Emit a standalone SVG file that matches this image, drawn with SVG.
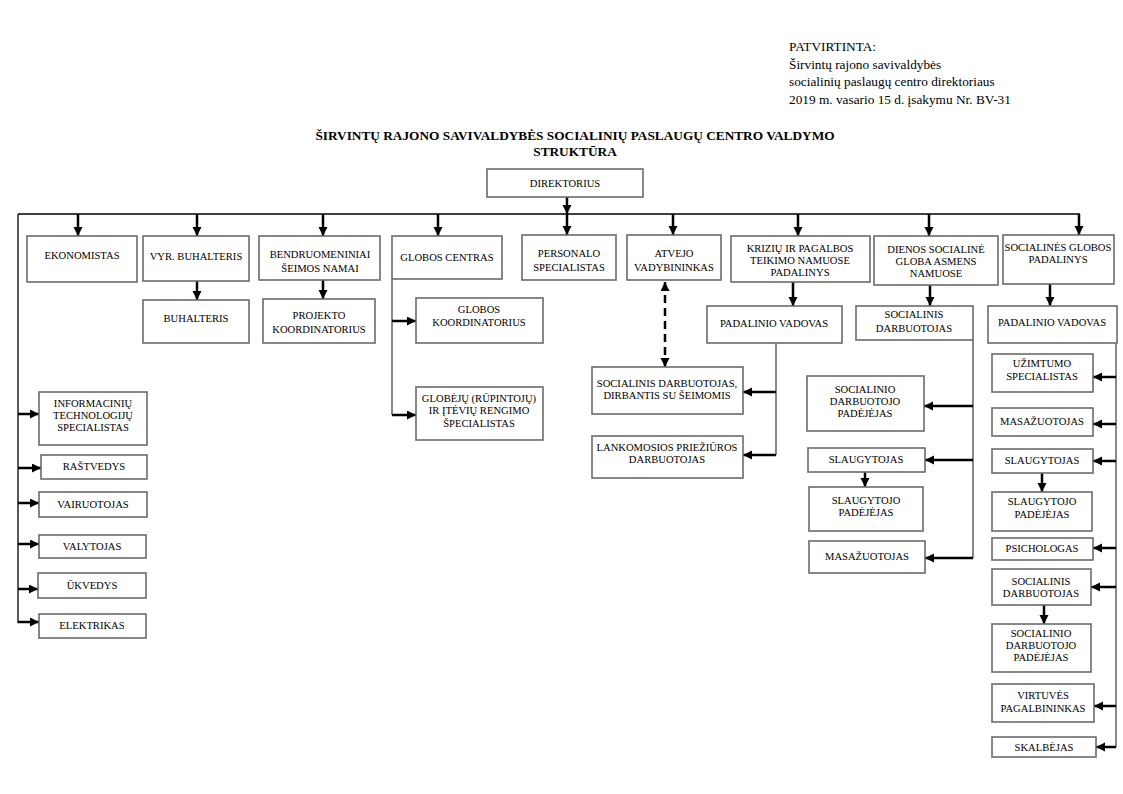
<svg xmlns="http://www.w3.org/2000/svg" width="1123" height="794" viewBox="0 0 1123 794">
<defs>
<marker id="ah" markerUnits="userSpaceOnUse" markerWidth="10" markerHeight="10" refX="9" refY="4.5" orient="auto-start-reverse">
<path d="M0,0 L9,4.5 L0,9 z" fill="#000"/>
</marker>
</defs>
<style>
.b{fill:#fff;stroke:#6b6b6b;stroke-width:1.6}
.t{font-family:"Liberation Serif","Times New Roman",serif;font-size:10.6px;fill:#000;text-anchor:middle}
.h{font-family:"Liberation Serif","Times New Roman",serif;font-size:13.3px;fill:#000}
.ti{font-family:"Liberation Serif","Times New Roman",serif;font-size:13.3px;font-weight:bold;fill:#000;text-anchor:middle}
.thin{stroke:#000;stroke-width:1.3;fill:none}
.gl{stroke:#6b6b6b;stroke-width:1.6;fill:none}
.ar{stroke:#000;stroke-width:2.5;fill:none;marker-end:url(#ah)}
.da{stroke:#000;stroke-width:2.5;fill:none;stroke-dasharray:8 5;marker-end:url(#ah);marker-start:url(#ah)}
</style>
<rect width="1123" height="794" fill="#fff"/>
<g id="header">
<text class="h" x="789" y="51">PATVIRTINTA:</text>
<text class="h" x="789" y="69">Širvintų rajono savivaldybės</text>
<text class="h" x="789" y="86">socialinių paslaugų centro direktoriaus</text>
<text class="h" x="789" y="104">2019 m. vasario 15 d. įsakymu Nr. BV-31</text>
</g>
<g id="title">
<text class="ti" x="575" y="140">ŠIRVINTŲ RAJONO SAVIVALDYBĖS SOCIALINIŲ PASLAUGŲ CENTRO VALDYMO</text>
<text class="ti" x="575" y="156">STRUKTŪRA</text>
</g>
<g id="connectors">
<line class="thin" x1="18" y1="214" x2="1080" y2="214"/>
<line class="thin" x1="18" y1="214" x2="18" y2="623"/>
<line class="ar" x1="567" y1="197" x2="567" y2="214"/>
<line class="ar" x1="78" y1="214" x2="78" y2="236"/>
<line class="ar" x1="197" y1="214" x2="197" y2="236"/>
<line class="ar" x1="323" y1="214" x2="323" y2="236"/>
<line class="ar" x1="438" y1="214" x2="438" y2="236"/>
<line class="ar" x1="567" y1="214" x2="567" y2="235"/>
<line class="ar" x1="673" y1="214" x2="673" y2="235"/>
<line class="ar" x1="798" y1="214" x2="798" y2="236"/>
<line class="ar" x1="929" y1="214" x2="929" y2="236"/>
<line class="ar" x1="1079" y1="214" x2="1079" y2="235"/>
<line class="ar" x1="197" y1="281" x2="197" y2="300"/>
<line class="ar" x1="323" y1="280" x2="323" y2="299"/>
<line class="ar" x1="793" y1="282" x2="793" y2="306"/>
<line class="ar" x1="930" y1="285" x2="930" y2="306"/>
<line class="ar" x1="1050" y1="284" x2="1050" y2="306"/>
<line class="ar" x1="1042" y1="473" x2="1042" y2="492"/>
<line class="ar" x1="865" y1="472" x2="865" y2="487"/>
<line class="ar" x1="1044" y1="605" x2="1044" y2="624"/>
<line class="da" x1="665" y1="282" x2="665" y2="367"/>
<line class="ar" x1="18" y1="414" x2="39" y2="414"/>
<line class="ar" x1="18" y1="468" x2="41" y2="468"/>
<line class="ar" x1="18" y1="503" x2="39" y2="503"/>
<line class="ar" x1="18" y1="544" x2="39" y2="544"/>
<line class="ar" x1="18" y1="589" x2="38" y2="589"/>
<line class="ar" x1="18" y1="622" x2="39" y2="622"/>
<line class="gl" x1="392" y1="279" x2="392" y2="415"/>
<line class="ar" x1="392" y1="321" x2="416" y2="321"/>
<line class="ar" x1="392" y1="415" x2="416" y2="415"/>
<line class="gl" x1="776" y1="343" x2="776" y2="455"/>
<line class="ar" x1="776" y1="392" x2="743" y2="392"/>
<line class="ar" x1="776" y1="455" x2="743" y2="455"/>
<line class="gl" x1="973" y1="340" x2="973" y2="558"/>
<line class="ar" x1="973" y1="406" x2="924" y2="406"/>
<line class="ar" x1="973" y1="460" x2="925" y2="460"/>
<line class="ar" x1="973" y1="558" x2="925" y2="558"/>
<line class="gl" x1="1116" y1="343" x2="1116" y2="747"/>
<line class="ar" x1="1116" y1="377" x2="1093" y2="377"/>
<line class="ar" x1="1116" y1="424" x2="1093" y2="424"/>
<line class="ar" x1="1116" y1="461" x2="1093" y2="461"/>
<line class="ar" x1="1116" y1="548" x2="1093" y2="548"/>
<line class="ar" x1="1116" y1="587" x2="1091" y2="587"/>
<line class="ar" x1="1116" y1="706" x2="1094" y2="706"/>
<line class="ar" x1="1116" y1="747" x2="1096" y2="747"/>
</g>
<g id="n-direktorius"><rect class="b" x="487" y="169" width="156" height="28"/><text class="t" x="565" y="187">DIREKTORIUS</text></g>
<g id="n-ekonomistas"><rect class="b" x="27" y="236" width="110" height="46"/><text class="t" x="82" y="259">EKONOMISTAS</text></g>
<g id="n-vyr-buhalteris"><rect class="b" x="143" y="236" width="106" height="45"/><text class="t" x="196" y="260">VYR. BUHALTERIS</text></g>
<g id="n-bendruomeniniai"><rect class="b" x="259" y="236" width="121" height="44"/><text class="t" x="320" y="258">BENDRUOMENINIAI</text><text class="t" x="320" y="272">ŠEIMOS NAMAI</text></g>
<g id="n-globos-centras"><rect class="b" x="392" y="236" width="110" height="43"/><text class="t" x="447" y="261">GLOBOS CENTRAS</text></g>
<g id="n-personalo"><rect class="b" x="522" y="235" width="94" height="45"/><text class="t" x="569" y="257">PERSONALO</text><text class="t" x="569" y="271">SPECIALISTAS</text></g>
<g id="n-atvejo"><rect class="b" x="627" y="235" width="94" height="45"/><text class="t" x="674" y="257">ATVEJO</text><text class="t" x="674" y="271">VADYBININKAS</text></g>
<g id="n-kriziu"><rect class="b" x="731" y="236" width="139" height="46"/><text class="t" x="800" y="252">KRIZIŲ IR PAGALBOS</text><text class="t" x="800" y="264">TEIKIMO NAMUOSE</text><text class="t" x="800" y="276">PADALINYS</text></g>
<g id="n-dienos"><rect class="b" x="874" y="236" width="124" height="49"/><text class="t" x="936" y="253">DIENOS SOCIALINĖ</text><text class="t" x="936" y="265">GLOBA ASMENS</text><text class="t" x="936" y="277">NAMUOSE</text></g>
<g id="n-soc-globos"><rect class="b" x="1003" y="235" width="111" height="49"/><text class="t" x="1058" y="251">SOCIALINĖS GLOBOS</text><text class="t" x="1058" y="263">PADALINYS</text></g>
<g id="n-buhalteris"><rect class="b" x="143" y="300" width="106" height="43"/><text class="t" x="196" y="322">BUHALTERIS</text></g>
<g id="n-projekto"><rect class="b" x="263" y="299" width="112" height="44"/><text class="t" x="319" y="319">PROJEKTO</text><text class="t" x="319" y="333">KOORDINATORIUS</text></g>
<g id="n-globos-koord"><rect class="b" x="416" y="298" width="127" height="45"/><text class="t" x="479" y="313">GLOBOS</text><text class="t" x="479" y="326">KOORDINATORIUS</text></g>
<g id="n-globeju"><rect class="b" x="416" y="387" width="127" height="53"/><text class="t" x="479" y="402">GLOBĖJŲ (RŪPINTOJŲ)</text><text class="t" x="479" y="414">IR ĮTĖVIŲ RENGIMO</text><text class="t" x="479" y="427">ŠPECIALISTAS</text></g>
<g id="n-padalinio-k"><rect class="b" x="707" y="306" width="135" height="37"/><text class="t" x="774" y="327">PADALINIO VADOVAS</text></g>
<g id="n-soc-darb-d"><rect class="b" x="856" y="306" width="117" height="34"/><text class="t" x="914" y="318">SOCIALINIS</text><text class="t" x="914" y="332">DARBUOTOJAS</text></g>
<g id="n-padalinio-s"><rect class="b" x="988" y="306" width="129" height="37"/><text class="t" x="1052" y="326">PADALINIO VADOVAS</text></g>
<g id="n-soc-darb-seimos"><rect class="b" x="592" y="367" width="151" height="47"/><text class="t" x="667" y="387">SOCIALINIS DARBUOTOJAS,</text><text class="t" x="667" y="399">DIRBANTIS SU ŠEIMOMIS</text></g>
<g id="n-lankomosios"><rect class="b" x="592" y="436" width="151" height="42"/><text class="t" x="667" y="451">LANKOMOSIOS  PRIEŽIŪROS</text><text class="t" x="667" y="463">DARBUOTOJAS</text></g>
<g id="n-soc-pad-d"><rect class="b" x="807" y="376" width="117" height="55"/><text class="t" x="865" y="393">SOCIALINIO</text><text class="t" x="865" y="405">DARBUOTOJO</text><text class="t" x="865" y="417">PADĖJĖJAS</text></g>
<g id="n-slaug-d"><rect class="b" x="808" y="448" width="117" height="24"/><text class="t" x="866" y="463">SLAUGYTOJAS</text></g>
<g id="n-slaug-pad-d"><rect class="b" x="809" y="487" width="114" height="44"/><text class="t" x="866" y="504">SLAUGYTOJO</text><text class="t" x="866" y="516">PADĖJĖJAS</text></g>
<g id="n-masaz-d"><rect class="b" x="809" y="541" width="116" height="32"/><text class="t" x="867" y="560">MASAŽUOTOJAS</text></g>
<g id="n-uzimtumo"><rect class="b" x="992" y="354" width="101" height="38"/><text class="t" x="1042" y="367">UŽIMTUMO</text><text class="t" x="1042" y="380">SPECIALISTAS</text></g>
<g id="n-masaz-s"><rect class="b" x="992" y="408" width="101" height="28"/><text class="t" x="1042" y="425">MASAŽUOTOJAS</text></g>
<g id="n-slaug-s"><rect class="b" x="992" y="449" width="101" height="24"/><text class="t" x="1042" y="464">SLAUGYTOJAS</text></g>
<g id="n-slaug-pad-s"><rect class="b" x="992" y="492" width="100" height="39"/><text class="t" x="1042" y="505">SLAUGYTOJO</text><text class="t" x="1042" y="518">PADĖJĖJAS</text></g>
<g id="n-psichologas"><rect class="b" x="992" y="538" width="101" height="22"/><text class="t" x="1042" y="552">PSICHOLOGAS</text></g>
<g id="n-soc-darb-s"><rect class="b" x="992" y="569" width="99" height="36"/><text class="t" x="1041" y="585">SOCIALINIS</text><text class="t" x="1041" y="597">DARBUOTOJAS</text></g>
<g id="n-soc-pad-s"><rect class="b" x="992" y="624" width="99" height="48"/><text class="t" x="1041" y="637">SOCIALINIO</text><text class="t" x="1041" y="649">DARBUOTOJO</text><text class="t" x="1041" y="661">PADĖJĖJAS</text></g>
<g id="n-virtuves"><rect class="b" x="992" y="684" width="102" height="38"/><text class="t" x="1043" y="699">VIRTUVĖS</text><text class="t" x="1043" y="712">PAGALBININKAS</text></g>
<g id="n-skalbejas"><rect class="b" x="992" y="737" width="104" height="20"/><text class="t" x="1044" y="751">SKALBĖJAS</text></g>
<g id="n-it"><rect class="b" x="39" y="392" width="108" height="53"/><text class="t" x="93" y="407">INFORMACINIŲ</text><text class="t" x="93" y="419">TECHNOLOGIJŲ</text><text class="t" x="93" y="431">SPECIALISTAS</text></g>
<g id="n-rastvedys"><rect class="b" x="41" y="455" width="106" height="24"/><text class="t" x="94" y="470">RAŠTVEDYS</text></g>
<g id="n-vairuotojas"><rect class="b" x="39" y="492" width="108" height="25"/><text class="t" x="93" y="508">VAIRUOTOJAS</text></g>
<g id="n-valytojas"><rect class="b" x="39" y="535" width="107" height="23"/><text class="t" x="92" y="550">VALYTOJAS</text></g>
<g id="n-ukvedys"><rect class="b" x="38" y="573" width="108" height="25"/><text class="t" x="92" y="589">ŪKVEDYS</text></g>
<g id="n-elektrikas"><rect class="b" x="39" y="614" width="107" height="24"/><text class="t" x="92" y="629">ELEKTRIKAS</text></g>
</svg>
